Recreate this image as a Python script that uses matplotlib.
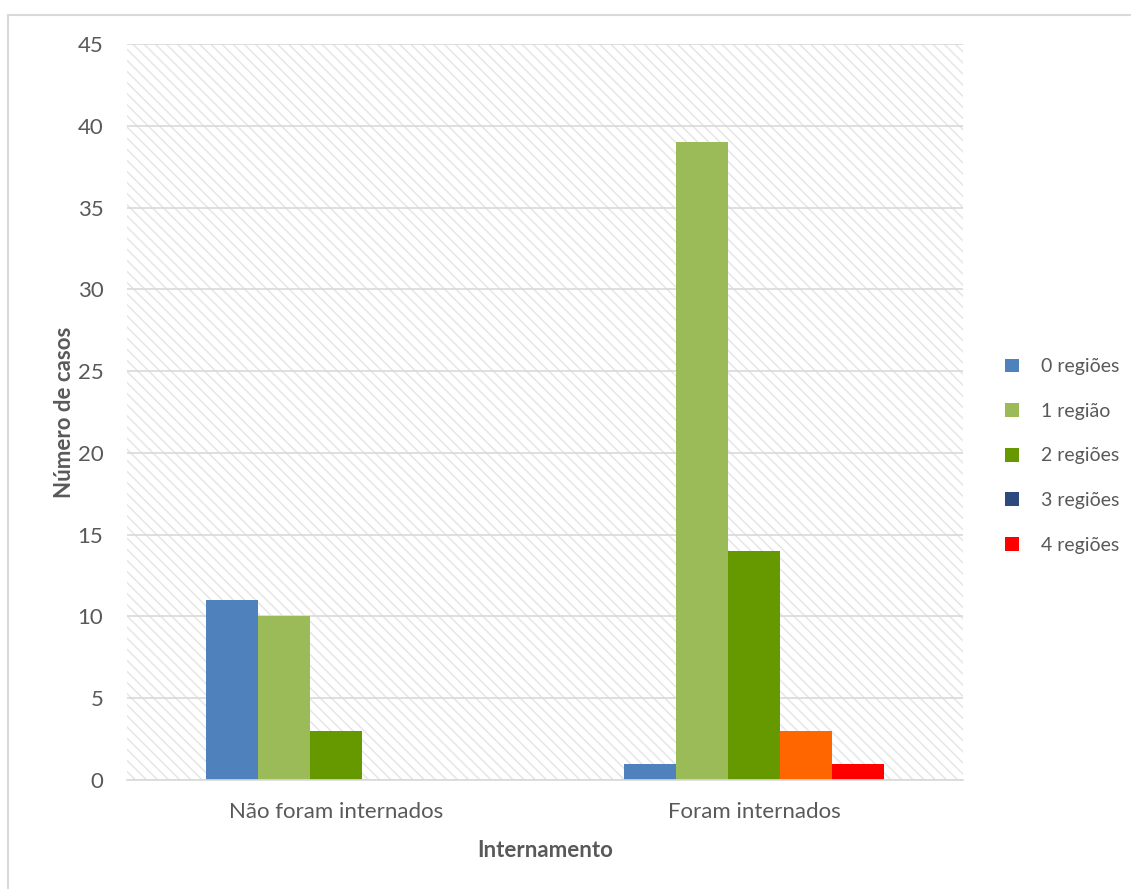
import matplotlib
matplotlib.use('Agg')
import matplotlib.pyplot as plt
from matplotlib.patches import Rectangle, Patch
import numpy as np

plt.rcParams['font.family'] = ['Lato', 'DejaVu Sans']
plt.rcParams['hatch.linewidth'] = 1.1

categorias = ['Não foram internados', 'Foram internados']
series = ['0 regiões', '1 região', '2 regiões', '3 regiões', '4 regiões']
zero_regioes = [11, 1]
uma_regiao = [10, 39]
duas_regioes = [3, 14]
tres_regioes = [0, 3]
quatro_regioes = [0, 1]
valores = [zero_regioes, uma_regiao, duas_regioes, tres_regioes, quatro_regioes]

cores = ['#4f81bd', '#9bbb59', '#669900', '#2c4a7c', '#ff0000']
# o ponto "3 regiões" dos internados aparece a laranja
cores_ponto = {(3, 1): '#ff6600'}

texto = '#595959'

fig = plt.figure(figsize=(11.31, 8.89), dpi=100)
ax = fig.add_axes([127 / 1131, 1 - 780 / 889, 836 / 1131, 736 / 889])
ax.set_facecolor('white')

# fundo tracejado
ax.add_patch(Rectangle((0, 0), 1, 1, transform=ax.transAxes, facecolor='white',
                       edgecolor='#e6e6e6', linewidth=0, hatch='\\\\\\', zorder=0))

x = np.arange(len(categorias))
w = 0.1244
for i, (nome, vals) in enumerate(zip(series, valores)):
    cs = [cores_ponto.get((i, j), cores[i]) for j in range(len(vals))]
    ax.bar(x + (i - 2) * w, vals, width=w, color=cs, edgecolor='none', zorder=3)

ax.set_xlim(-0.5, 1.5)
ax.set_ylim(0, 45)
ax.set_yticks(range(0, 46, 5))
ax.yaxis.grid(True, color='#d9d9d9', linewidth=1.2, zorder=1)
ax.set_axisbelow(True)
ax.set_xticks(x)
ax.set_xticklabels(categorias)
ax.tick_params(axis='both', length=0, labelsize=16, colors=texto)
ax.tick_params(axis='y', pad=17)
ax.tick_params(axis='x', pad=16)
for s in ['top', 'right', 'left']:
    ax.spines[s].set_visible(False)
ax.spines['bottom'].set_color('#d9d9d9')
ax.spines['bottom'].set_linewidth(1.2)
ax.spines['bottom'].set_zorder(4)

ax.set_ylabel('Número de casos', fontsize=16, fontweight='bold', color=texto, labelpad=2)
ax.set_xlabel('Internamento', fontsize=16, fontweight='bold', color=texto, labelpad=13)

handles = [Patch(facecolor=c, edgecolor='none') for c in cores]
fig.legend(handles, series, loc='center left', bbox_to_anchor=(987 / 1131, 1 - 456 / 889),
           frameon=False, fontsize=14, labelcolor=texto, handlelength=0.72,
           handleheight=0.72, handletextpad=1.15, labelspacing=1.42)

# moldura do gráfico
fig.add_artist(Rectangle((8 / 1131, -0.1), 1.0, 1.1 - 15 / 889, transform=fig.transFigure,
                         facecolor='none', edgecolor='#d9d9d9', linewidth=1.5))

fig.savefig('out.png', dpi=100, facecolor='white')
